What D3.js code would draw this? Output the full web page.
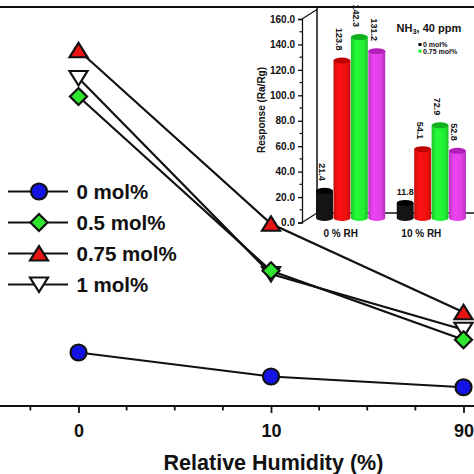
<!DOCTYPE html>
<html>
<head>
<meta charset="utf-8">
<script src="https://cdn.jsdelivr.net/npm/d3@7"></script>
<style>
  html, body { margin: 0; padding: 0; background: #fff; overflow: hidden; }
  svg { display: block; font-family: "Liberation Sans", Arial, sans-serif; font-weight: bold; }
</style>
</head>
<body>
<svg id="chart" width="474" height="474"></svg>
<script>
// ---------- Main chart data ----------
const humidityLabels = ["0", "10", "90"];
const seriesNames = ["0 mol%", "0.5 mol%", "0.75 mol%", "1 mol%"];
const values0   = [21.4, 11.8, 7.5];
const values05  = [123.8, 54.1, 26.5];
const values075 = [142.3, 72.9, 37.5];
const values1   = [131.2, 52.8, 30.5];
const seriesShapes = ["circle", "diamond", "triangle", "invtriangle"];
const seriesFills = ["#1414e6", "#2ee62e", "#e81414", "#ffffff"];

// ---------- Inset data ----------
const insetGroups = ["0 % RH", "10 % RH"];
const insetSeries = ["0 mol%", "0.5 mol%", "0.75 mol%", "1 mol%"];
const inset0RH  = [21.4, 123.8, 142.3, 131.2];
const inset10RH = [11.8, 54.1, 72.9, 52.8];
const insetColors = ["#141414", "#f01010", "#22ee33", "#e040e6"];
const insetTopColors = ["#000000", "#c00000", "#10b020", "#b020b8"];
const insetTicks = [0, 20, 40, 60, 80, 100, 120, 140, 160];
const insetLegend = ["0 mol%", "0.75 mol%"];
const insetLegendColors = ["#000000", "#22ee33"];

const svg = d3.select("#chart");
const W = 474, H = 474;

// ---------- Scales ----------
const x = d3.scaleLinear().domain([0, 2]).range([78.5, 463.5]);
const y = d3.scaleLinear().domain([0, 160]).range([406, 6]);

// frame top line
svg.append("line").attr("x1", 0).attr("x2", W).attr("y1", y(160) + 1).attr("y2", y(160) + 1)
  .attr("stroke", "#111").attr("stroke-width", 2.2);

// bottom axis
const minorTicks = d3.range(-0.5, 2.01, 0.25).filter(t => Math.abs(t - Math.round(t)) > 1e-6);
const axisG = svg.append("g").attr("transform", `translate(0,${y(0)})`);
axisG.append("line").attr("x1", 0).attr("x2", W).attr("stroke", "#111").attr("stroke-width", 2.2);
axisG.selectAll("line.minor").data(minorTicks).join("line").attr("class", "minor")
  .attr("x1", d => x(d)).attr("x2", d => x(d)).attr("y1", 0).attr("y2", 4.5)
  .attr("stroke", "#111").attr("stroke-width", 1.8);
const majorAxis = d3.axisBottom(x).tickValues([0, 1, 2]).tickFormat((d, i) => humidityLabels[i])
  .tickSize(7).tickPadding(8);
const ag = svg.append("g").attr("transform", `translate(0,${y(0)})`).call(majorAxis);
ag.select(".domain").remove();
ag.selectAll(".tick line").attr("stroke", "#111").attr("stroke-width", 1.8);
ag.selectAll(".tick text").attr("font-size", 18).attr("font-family", "Liberation Sans, Arial")
  .attr("font-weight", "bold").attr("fill", "#111").attr("dy", "0.9em");

svg.append("text").attr("x", 273.5).attr("y", 470).attr("text-anchor", "middle")
  .attr("font-size", 21.5).attr("fill", "#111").text("Relative Humidity (%)");

// ---------- Markers ----------
function markerPath(shape) {
  const p = d3.path();
  if (shape === "circle") { p.arc(0, 0, 8, 0, 2 * Math.PI); }
  else if (shape === "diamond") { p.moveTo(0, -8.5); p.lineTo(8.5, 0); p.lineTo(0, 8.5); p.lineTo(-8.5, 0); p.closePath(); }
  else if (shape === "triangle") { p.moveTo(0, -7.5); p.lineTo(9, 7); p.lineTo(-9, 7); p.closePath(); }
  else { p.moveTo(-9, -7); p.lineTo(9, -7); p.lineTo(0, 7.5); p.closePath(); }
  return p.toString();
}

const allSeries = [values0, values05, values075, values1];
const line = d3.line().x((d, i) => x(i)).y(d => y(d));
allSeries.forEach(vals => {
  svg.append("path").attr("d", line(vals)).attr("fill", "none").attr("stroke", "#111").attr("stroke-width", 2.2);
});
// draw order: 0, 1 mol%, 0.75, 0.5 so diamond sits on top
[0, 3, 2, 1].forEach(si => {
  svg.append("g").selectAll("path").data(allSeries[si]).join("path")
    .attr("transform", (d, i) => `translate(${x(i)},${y(d)})`)
    .attr("d", markerPath(seriesShapes[si]))
    .attr("fill", seriesFills[si]).attr("stroke", "#111").attr("stroke-width", 2.2)
    .attr("stroke-linejoin", "miter");
});

// ---------- Legend ----------
const legY = d3.scaleLinear().domain([0, 3]).range([191.5, 284.5]);
const leg = svg.append("g");
seriesNames.forEach((name, i) => {
  const gy = legY(i);
  leg.append("line").attr("x1", 8).attr("x2", 68).attr("y1", gy).attr("y2", gy)
    .attr("stroke", "#111").attr("stroke-width", 2.2);
  leg.append("path").attr("transform", `translate(39,${gy})`).attr("d", markerPath(seriesShapes[i]))
    .attr("fill", seriesFills[i]).attr("stroke", "#111").attr("stroke-width", 2.2);
  leg.append("text").attr("x", 76.5).attr("y", gy + 7.5).attr("font-size", 20.5).attr("fill", "#111").text(name);
});

// ---------- Inset ----------
const yIn = d3.scaleLinear().domain([0, 160]).range([222.5, 19]);
const xGroup = d3.scaleBand().domain(insetGroups).range([308, 474]).paddingInner(0.143).paddingOuter(0.1);
const xSub = d3.scaleBand().domain(insetSeries).range([0, xGroup.bandwidth()]).paddingInner(0.03);
const depthX = 15, depthY = 9.5;
const inset = svg.append("g");
const axisX = 302;

// back wall left edge & floor
inset.append("line").attr("x1", axisX + depthX).attr("x2", axisX + depthX).attr("y1", 7).attr("y2", yIn(0) - depthY)
  .attr("stroke", "#111").attr("stroke-width", 1.5);
inset.append("line").attr("x1", axisX + depthX).attr("x2", W).attr("y1", yIn(0) - depthY).attr("y2", yIn(0) - depthY)
  .attr("stroke", "#111").attr("stroke-width", 1.5);
inset.append("line").attr("x1", axisX).attr("x2", axisX + depthX).attr("y1", yIn(0)).attr("y2", yIn(0) - depthY)
  .attr("stroke", "#111").attr("stroke-width", 1.2);
inset.append("line").attr("x1", axisX).attr("x2", axisX + depthX).attr("y1", yIn(160)).attr("y2", yIn(160) - depthY)
  .attr("stroke", "#111").attr("stroke-width", 1.2);

// inset y axis
const inAxis = d3.axisLeft(yIn).tickValues(insetTicks).tickFormat(d3.format(".1f")).tickSize(4).tickPadding(3);
const iag = inset.append("g").attr("transform", `translate(${axisX},0)`).call(inAxis);
iag.select(".domain").attr("stroke", "#111").attr("stroke-width", 1.3);
iag.selectAll(".tick line").attr("stroke", "#111").attr("stroke-width", 1.3);
iag.selectAll(".tick text").attr("font-size", 10).attr("font-family", "Liberation Sans, Arial")
  .attr("font-weight", "bold").attr("fill", "#111");
iag.selectAll("line.minor").data(d3.range(10, 160, 20)).join("line").attr("class", "minor")
  .attr("x1", -2.5).attr("x2", 0).attr("y1", d => yIn(d)).attr("y2", d => yIn(d))
  .attr("stroke", "#111").attr("stroke-width", 1.2);

inset.append("text").attr("transform", `translate(265,110) rotate(-90)`).attr("text-anchor", "middle")
  .attr("font-size", 10).attr("fill", "#111").text("Response (Ra/Rg)");

// gradients
const defs = svg.append("defs");
insetColors.forEach((c, i) => {
  const g = defs.append("linearGradient").attr("id", "cyl" + i).attr("x1", "0%").attr("x2", "100%");
  const base = d3.color(c);
  g.append("stop").attr("offset", "0%").attr("stop-color", base.darker(0.5));
  g.append("stop").attr("offset", "30%").attr("stop-color", base.brighter(0.15));
  g.append("stop").attr("offset", "75%").attr("stop-color", base);
  g.append("stop").attr("offset", "100%").attr("stop-color", base.darker(0.6));
});

const insetData = [inset0RH, inset10RH];
const lift = 4.5, ry = 3;
insetData.forEach((vals, gi) => {
  const g0 = xGroup(insetGroups[gi]);
  vals.forEach((v, si) => {
    const bx = g0 + xSub(insetSeries[si]);
    const bw = xSub.bandwidth();
    const cx = bx + bw / 2;
    const top = yIn(v) - lift;
    const bot = yIn(0) - lift;
    inset.append("ellipse").attr("cx", cx).attr("cy", bot).attr("rx", bw / 2).attr("ry", ry)
      .attr("fill", `url(#cyl${si})`);
    inset.append("rect").attr("x", bx).attr("y", top).attr("width", bw).attr("height", bot - top)
      .attr("fill", `url(#cyl${si})`);
    inset.append("ellipse").attr("cx", cx).attr("cy", top).attr("rx", bw / 2).attr("ry", ry)
      .attr("fill", insetTopColors[si]);
    if (gi === 1 && si === 0) {
      inset.append("text").attr("x", cx).attr("y", top - 8).attr("text-anchor", "middle")
        .attr("font-size", 9).attr("fill", "#111").text(v.toFixed(1));
    } else {
      inset.append("text").attr("transform", `translate(${cx - 6},${top - 10}) rotate(90)`)
        .attr("text-anchor", "end").attr("font-size", 9).attr("fill", "#111").text(v.toFixed(1));
    }
  });
});

// inset x labels
inset.selectAll("text.grp").data(insetGroups).join("text").attr("class", "grp")
  .attr("x", (d, i) => xGroup(d) + xGroup.bandwidth() / 2 - 10).attr("y", 237)
  .attr("text-anchor", "middle").attr("font-size", 10).attr("fill", "#111").text(d => d);

// inset legend
const nh = inset.append("text").attr("x", 396.5).attr("y", 31.5).attr("font-size", 11).attr("fill", "#111");
nh.append("tspan").text("NH");
nh.append("tspan").attr("font-size", 7.5).attr("dy", 2.5).text("3");
nh.append("tspan").attr("dy", -2.5).text(",  40 ppm");
insetLegend.forEach((name, i) => {
  const ly = 44.5 + i * 6.7;
  inset.append("rect").attr("x", 418.5).attr("y", ly - 1.5).attr("width", 3).attr("height", 3)
    .attr("fill", insetLegendColors[i]);
  inset.append("text").attr("x", 423).attr("y", ly + 2.6).attr("font-size", 7).attr("fill", "#111").text(name);
});
</script>
</body>
</html>
